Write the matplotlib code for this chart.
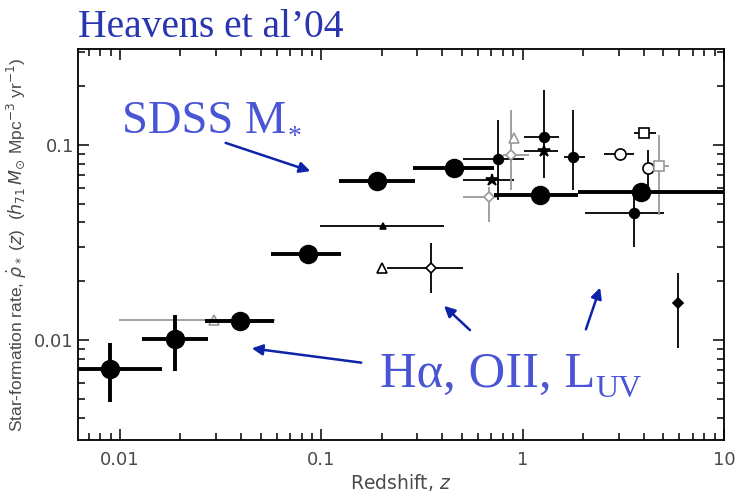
import numpy as np
import matplotlib.pyplot as plt
import matplotlib.ticker as tkr

plt.rcParams['font.family'] = ['DejaVu Sans']

# Heavens et al. 2004 (SDSS fossil record) bins
hz = np.array([0.0089, 0.0188, 0.0396, 0.0863, 0.19, 0.458, 1.22, 3.89])
hsfr = np.array([0.0071, 0.0101, 0.0125, 0.0276, 0.0653, 0.0762, 0.0554, 0.0574])
hz_lo = np.array([0.0062, 0.0129, 0.0265, 0.0565, 0.123, 0.286, 0.725, 1.89])
hz_hi = np.array([0.0162, 0.0274, 0.0585, 0.126, 0.293, 0.725, 1.89, 10.0])
hs_lo = np.array([0.0048, 0.0069, 0.0125, 0.0276, 0.0653, 0.0762, 0.0554, 0.0574])
hs_hi = np.array([0.0096, 0.0134, 0.0125, 0.0276, 0.0653, 0.0762, 0.0554, 0.0574])

# literature compilation (Halpha, OII, UV)
lit_z = np.array([0.0294, 0.203, 0.20, 0.352, 0.684, 0.708, 0.757, 0.88, 0.91,
                  1.27, 1.27, 1.78, 3.06, 3.58, 4.02, 4.2, 4.77, 5.94])
lit_sfr = np.array([0.0127, 0.0384, 0.0234, 0.0234, 0.0541, 0.066, 0.0848, 0.089, 0.1086,
                    0.1099, 0.093, 0.0868, 0.0899, 0.0448, 0.1152, 0.0762, 0.078, 0.01546])
lit_zlo = np.array([0.0099, 0.099, 0.20, 0.211, 0.507, 0.507, 0.507, 0.80, 0.91,
                    1.02, 1.02, 1.6, 2.55, 2.03, 3.59, 4.05, 4.12, 5.94])
lit_zhi = np.array([0.059, 0.408, 0.20, 0.507, 0.75, 0.91, 1.02, 1.07, 0.91,
                    1.52, 1.5, 2.05, 3.59, 5.06, 4.61, 4.2, 5.35, 5.94])
lit_slo = np.array([0.0127, 0.0384, 0.0234, 0.0174, 0.0403, 0.066, 0.052, 0.0588, 0.1086,
                    0.0677, 0.093, 0.0588, 0.0899, 0.030, 0.1152, 0.0588, 0.0438, 0.0091])
lit_shi = np.array([0.0127, 0.0384, 0.0234, 0.0314, 0.0609, 0.066, 0.134, 0.151, 0.1086,
                    0.1915, 0.093, 0.151, 0.0899, 0.058, 0.1152, 0.094, 0.1125, 0.0221])

# marker styles per literature point
lit_marker = ['^', '^', '^', 'D', 'D', '*', 'o', 'D', '^', 'o', '*', 'o', 'o', 'o', 's', 'o', 's', 'D']
lit_ms = [7, 5, 7, 5.5, 5.5, 9, 7, 5.5, 7, 7, 9, 7, 8, 7, 6.5, 8, 6.5, 5.5]
lit_open = [True, False, True, True, True, False, False, True, True,
            False, False, False, True, False, True, True, True, False]
lit_gray = [True, False, False, False, True, False, False, True, True,
            False, False, False, False, False, False, False, True, False]


def func(x, pos):
    return '%g' % x

fmt = tkr.FuncFormatter(func)

fig = plt.figure(figsize=(7.36, 4.93), dpi=100)
ax = fig.add_axes([78/736, 1-440/493, (724-78)/736, (440-49)/493])
ax.set_xscale('log')
ax.set_yscale('log')
ax.set_xlim(0.0062, 10)
ax.set_ylim(0.00307, 0.31)

for i in range(len(lit_z)):
    c = '#9a9a9a' if lit_gray[i] else 'black'
    ax.errorbar(lit_z[i], lit_sfr[i],
                xerr=[[lit_z[i]-lit_zlo[i]], [lit_zhi[i]-lit_z[i]]],
                yerr=[[lit_sfr[i]-lit_slo[i]], [lit_shi[i]-lit_sfr[i]]],
                fmt=lit_marker[i], ms=lit_ms[i], color=c, ecolor=c, lw=1.3,
                mfc='white' if lit_open[i] else c, mec=c, mew=1.2, capsize=0, zorder=2)

ax.errorbar(hz, hsfr, xerr=[hz-hz_lo, hz_hi-hz], yerr=[hsfr-hs_lo, hs_hi-hsfr],
            fmt='o', ms=13, color='black', lw=2.8, capsize=0, zorder=3)

for s in ax.spines.values():
    s.set_linewidth(1.3)
ax.tick_params(which='both', direction='in', top=True, right=True, width=1.1,
               labelsize=13, labelcolor='#4a4a4a')
ax.tick_params(axis='x', pad=8)
ax.tick_params(axis='y', pad=3)
ax.tick_params(which='major', length=8)
ax.tick_params(which='minor', length=5)
ax.xaxis.set_major_formatter(fmt)
ax.yaxis.set_major_formatter(fmt)
ax.yaxis.set_minor_formatter(tkr.NullFormatter())

ax.set_xlabel('Redshift, $z$', fontsize=13.5, color='#4a4a4a', labelpad=2)
ax.set_ylabel(r'Star-formation rate, $\dot{\rho}_*$ ($z$)  ($h_{71}\,M_{\odot}$ Mpc$^{-3}$ yr$^{-1}$)',
              fontsize=12.5, color='#4a4a4a', labelpad=4, family='Liberation Sans')

# annotations
serif = 'Liberation Serif'
fig.text(78/736, 1-37/493, 'Heavens et al\u201904', fontsize=28.5, color='#2a35b0',
         family=serif, va='baseline', zorder=10)

renderer = fig.canvas.get_renderer()
t1 = fig.text(122/736, 1-133/493, 'SDSS M', fontsize=33.5, color='#4a55d6',
              family=serif, va='baseline', zorder=10)
bb = t1.get_window_extent(renderer)
fig.text(bb.x1/736 + 0.002, 1-144/493, '*', fontsize=20, color='#4a55d6',
         family=serif, va='baseline', zorder=10)

t2 = fig.text(380/736, 1-387/493, 'H\u03b1, OII, L', fontsize=36.5, color='#4a55d6',
              family=serif, va='baseline', zorder=10)
bb = t2.get_window_extent(renderer)
fig.text(bb.x1/736, 1-397/493, 'UV', fontsize=23, color='#4a55d6',
         family=serif, va='baseline', zorder=10)

arrows = [((223, 142), (313, 172)), ((364, 363), (249, 348)),
          ((472, 332), (442, 304)), ((585, 332), (601, 285))]
for (x0, y0), (x1, y1) in arrows:
    ax.annotate('', xy=(x1/736, 1-y1/493), xytext=(x0/736, 1-y0/493),
                xycoords='figure fraction', textcoords='figure fraction',
                arrowprops=dict(arrowstyle='-|>', color='#0d23a8', lw=1.8, mutation_scale=16))

fig.savefig('out.png', dpi=100)
